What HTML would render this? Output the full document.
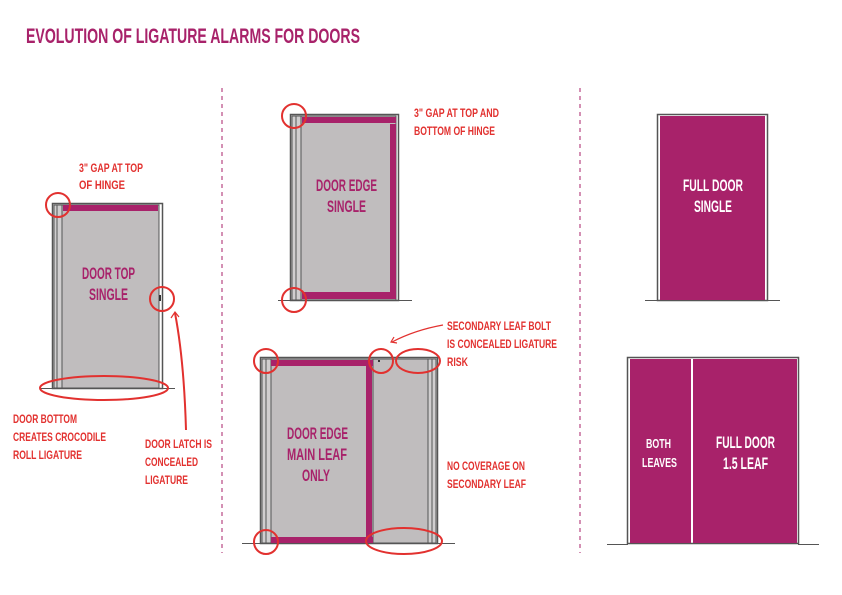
<!DOCTYPE html>
<html><head><meta charset="utf-8"><style>
html,body{margin:0;padding:0;background:#fff;}
svg{display:block;}
text{font-family:"Liberation Sans",sans-serif;font-weight:bold;}
.r{fill:#e2312f;font-size:11.5px;}
.m{fill:#a8226a;font-size:17px;}
.w{fill:#fff;font-size:17px;}
</style></head><body>
<svg width="842" height="595" viewBox="0 0 842 595" xmlns="http://www.w3.org/2000/svg">
<text x="26" y="43" style="fill:#a8226a;font-size:21px" textLength="334" lengthAdjust="spacingAndGlyphs">EVOLUTION OF LIGATURE ALARMS FOR DOORS</text>

<line x1="222" y1="88" x2="222" y2="553" stroke="#a8226a" stroke-width="1" stroke-dasharray="4,4"/>
<line x1="580" y1="88" x2="580" y2="553" stroke="#a8226a" stroke-width="1" stroke-dasharray="4,4"/>

<g stroke="#555" stroke-width="1" fill="none">
<rect x="52.5" y="203.5" width="110" height="185" fill="#fff" stroke="#555" stroke-width="1.5"/>
<rect x="54" y="205" width="8" height="183" fill="#d0cecf"/>
<line x1="57" y1="205" x2="57" y2="388"/>
<rect x="62" y="205" width="97" height="183" fill="#c0bdbe"/>
<line x1="159" y1="205" x2="159" y2="388" stroke="#555"/>
<line x1="40" y1="388.5" x2="52" y2="388.5"/>
<line x1="162" y1="388.5" x2="175" y2="388.5"/>
</g>
<rect x="63" y="205" width="95" height="6" fill="#a8226a"/>
<rect x="159" y="295" width="2" height="6" fill="#333"/>

<g stroke="#555" stroke-width="1" fill="none">
<rect x="290.5" y="114.5" width="108" height="186" fill="#fff" stroke-width="1.5"/>
<rect x="292" y="116" width="9" height="184" fill="#d0cecf"/>
<line x1="296" y1="116" x2="296" y2="300"/>
<rect x="301" y="116" width="95" height="184" fill="#c0bdbe"/>
<line x1="278" y1="300.5" x2="290" y2="300.5"/>
<line x1="398" y1="300.5" x2="412" y2="300.5"/>
</g>
<rect x="302" y="117" width="94" height="6" fill="#a8226a"/>
<rect x="390" y="124" width="6" height="168" fill="#a8226a"/>
<rect x="302" y="292" width="94" height="7" fill="#a8226a"/>

<g stroke="#555" stroke-width="1" fill="none">
<rect x="260.5" y="357.5" width="177" height="186" fill="#fff" stroke-width="1.5"/>
<rect x="262" y="359" width="9" height="184" fill="#d0cecf"/>
<line x1="266" y1="359" x2="266" y2="543"/>
<rect x="271" y="359" width="102" height="184" fill="#c0bdbe"/>
<rect x="373" y="359" width="55" height="184" fill="#c0bdbe"/>
<rect x="428" y="359" width="8" height="184" fill="#d0cecf"/>
<line x1="432" y1="359" x2="432" y2="543"/>
<line x1="242" y1="543.5" x2="260" y2="543.5"/>
<line x1="437" y1="543.5" x2="455" y2="543.5"/>
</g>
<rect x="271" y="360" width="102" height="6" fill="#a8226a"/>
<rect x="366" y="366" width="6" height="171" fill="#a8226a"/>
<rect x="271" y="537" width="102" height="6" fill="#a8226a"/>
<rect x="378" y="360" width="2" height="2" fill="#333"/>

<g stroke="#555" stroke-width="1" fill="none">
<rect x="657.5" y="114.5" width="110" height="186" fill="#fff" stroke-width="1.5"/>
<rect x="660" y="116" width="105" height="184" fill="#a8226a" stroke="none"/>
<line x1="645" y1="300.5" x2="657" y2="300.5"/>
<line x1="767" y1="300.5" x2="780" y2="300.5"/>
</g>

<g stroke="#555" stroke-width="1" fill="none">
<rect x="627.5" y="357.5" width="171" height="186" fill="#fff" stroke-width="1.5"/>
<rect x="630" y="359" width="61" height="184" fill="#a8226a" stroke="none"/>
<rect x="693" y="359" width="104" height="184" fill="#a8226a" stroke="none"/>
<line x1="607" y1="544.5" x2="628" y2="544.5"/>
<line x1="798" y1="544.5" x2="819" y2="544.5"/>
</g>

<text class="m" x="82" y="279" textLength="53" lengthAdjust="spacingAndGlyphs">DOOR TOP</text>
<text class="m" x="89" y="300" textLength="39" lengthAdjust="spacingAndGlyphs">SINGLE</text>
<text class="m" x="316" y="191" textLength="61" lengthAdjust="spacingAndGlyphs">DOOR EDGE</text>
<text class="m" x="327" y="212" textLength="39" lengthAdjust="spacingAndGlyphs">SINGLE</text>
<text class="m" x="287" y="439" textLength="61" lengthAdjust="spacingAndGlyphs">DOOR EDGE</text>
<text class="m" x="287" y="460" textLength="60" lengthAdjust="spacingAndGlyphs">MAIN LEAF</text>
<text class="m" x="302" y="481" textLength="28" lengthAdjust="spacingAndGlyphs">ONLY</text>
<text class="w" x="683" y="191" textLength="60" lengthAdjust="spacingAndGlyphs">FULL DOOR</text>
<text class="w" x="694" y="212" textLength="38" lengthAdjust="spacingAndGlyphs">SINGLE</text>
<text class="w" x="646" y="448" style="font-size:13px" textLength="25" lengthAdjust="spacingAndGlyphs">BOTH</text>
<text class="w" x="642" y="467" style="font-size:13px" textLength="35" lengthAdjust="spacingAndGlyphs">LEAVES</text>
<text class="w" x="716" y="448" textLength="59" lengthAdjust="spacingAndGlyphs">FULL DOOR</text>
<text class="w" x="723" y="469" textLength="45" lengthAdjust="spacingAndGlyphs">1.5 LEAF</text>

<g stroke="#e2312f" stroke-width="2" fill="none">
<circle cx="58" cy="205" r="12"/>
<circle cx="162" cy="299" r="12"/>
<ellipse cx="104" cy="388" rx="64" ry="12"/>
<path d="M186 430 Q184 360 175 313"/>
<path d="M171 318 L175 312 L179 317" stroke-width="1.2"/>
<circle cx="294" cy="116" r="12"/>
<circle cx="294" cy="300" r="12"/>
<circle cx="266" cy="361" r="12"/>
<circle cx="381" cy="361" r="12"/>
<ellipse cx="418" cy="361" rx="22" ry="12"/>
<circle cx="266" cy="542" r="12"/>
<ellipse cx="404" cy="541" rx="38" ry="13"/>
<path d="M443 325 Q415 330 392 342" stroke-width="1.2"/>
<path d="M394 337 L391 342 L397 343" stroke-width="1.2"/>
</g>

<text class="r" x="79" y="172" textLength="64" lengthAdjust="spacingAndGlyphs">3" GAP AT TOP</text>
<text class="r" x="79" y="189" textLength="46" lengthAdjust="spacingAndGlyphs">OF HINGE</text>
<text class="r" x="13" y="423" textLength="64" lengthAdjust="spacingAndGlyphs">DOOR BOTTOM</text>
<text class="r" x="13" y="441" textLength="93" lengthAdjust="spacingAndGlyphs">CREATES CROCODILE</text>
<text class="r" x="13" y="459" textLength="69" lengthAdjust="spacingAndGlyphs">ROLL LIGATURE</text>
<text class="r" x="145" y="448" textLength="67" lengthAdjust="spacingAndGlyphs">DOOR LATCH IS</text>
<text class="r" x="145" y="466" textLength="53" lengthAdjust="spacingAndGlyphs">CONCEALED</text>
<text class="r" x="145" y="484" textLength="43" lengthAdjust="spacingAndGlyphs">LIGATURE</text>
<text class="r" x="414" y="117" textLength="85" lengthAdjust="spacingAndGlyphs">3" GAP AT TOP AND</text>
<text class="r" x="414" y="135" textLength="81" lengthAdjust="spacingAndGlyphs">BOTTOM OF HINGE</text>
<text class="r" x="447" y="330" textLength="104" lengthAdjust="spacingAndGlyphs">SECONDARY LEAF BOLT</text>
<text class="r" x="447" y="348" textLength="110" lengthAdjust="spacingAndGlyphs">IS CONCEALED LIGATURE</text>
<text class="r" x="447" y="366" textLength="21" lengthAdjust="spacingAndGlyphs">RISK</text>
<text class="r" x="447" y="470" textLength="78" lengthAdjust="spacingAndGlyphs">NO COVERAGE ON</text>
<text class="r" x="447" y="488" textLength="79" lengthAdjust="spacingAndGlyphs">SECONDARY LEAF</text>
</svg>
</body></html>
